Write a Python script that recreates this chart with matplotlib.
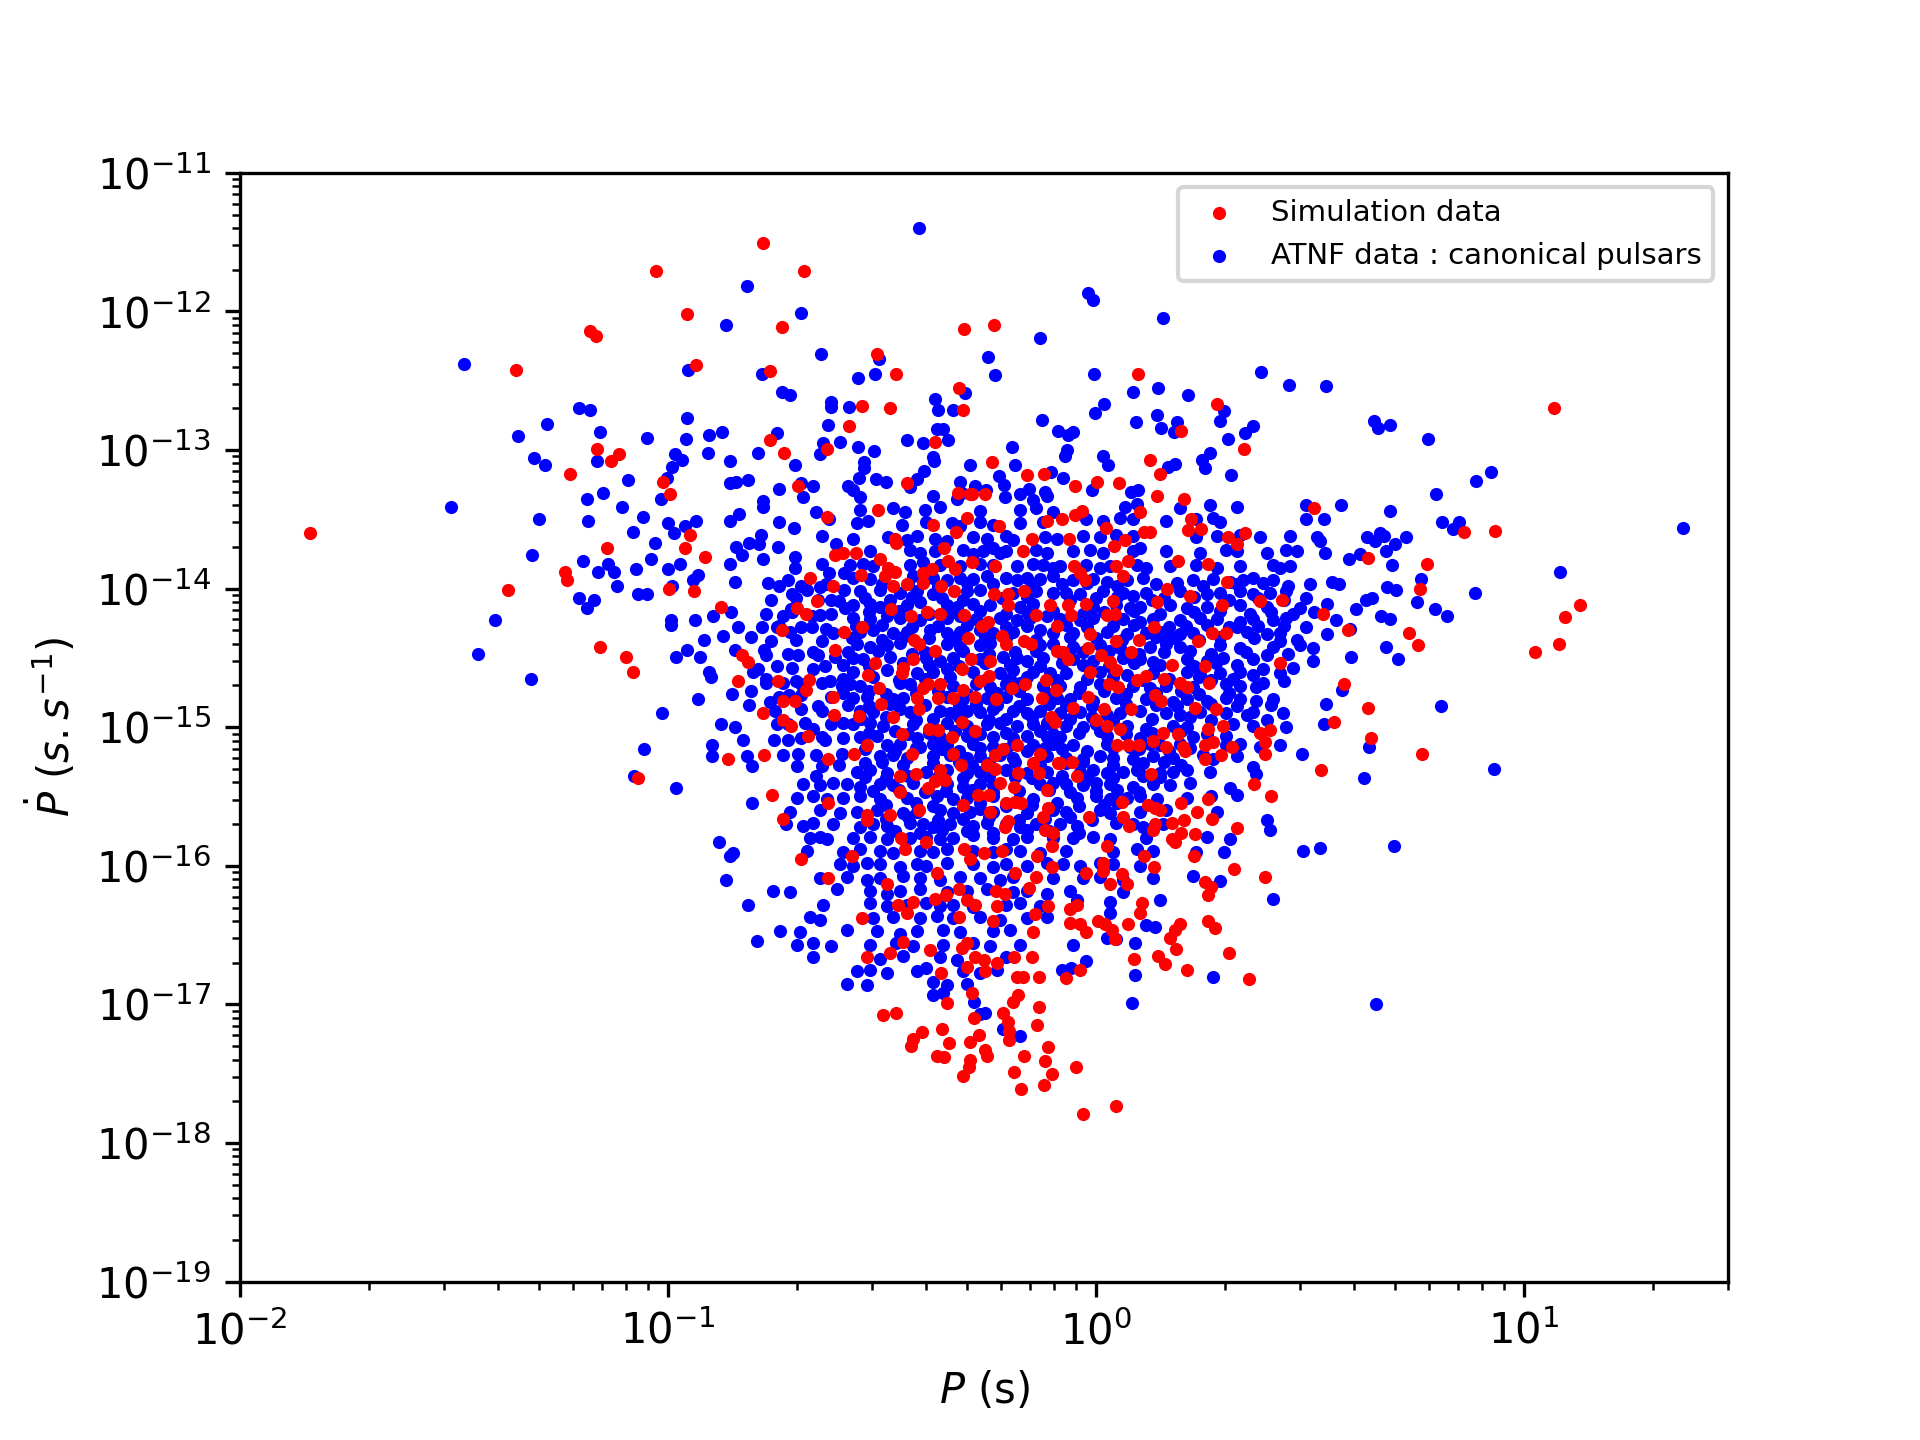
import matplotlib
matplotlib.use('Agg')
import matplotlib.pyplot as plt
import numpy

# (log10 P [s], log10 Pdot [s/s])

# ATNF canonical pulsars
atnf_points = [
    # outer points
    (-0.815,-11.82),(-0.864,-12.10),(0.697,-15.855),(0.655,-17.00),
    (-0.284,-16.98),(-0.259,-17.06),(-0.271,-17.07),(-0.218,-17.18),(-0.178,-17.23),(0.085,-16.99),
    # right side
    (0.537,-12.537),(0.650,-12.79),(0.660,-12.84),(0.688,-12.82),(0.777,-12.92),(0.889,-13.225),(0.924,-13.16),
    (0.795,-13.32),(0.573,-13.40),(0.534,-13.50),(0.687,-13.44),(0.809,-13.52),(0.835,-13.57),(0.849,-13.52),
    (1.372,-13.56),(0.523,-13.66),(0.536,-13.74),(0.634,-13.63),(0.653,-13.66),(0.665,-13.60),(0.674,-13.62),
    (0.724,-13.63),(0.698,-13.68),(0.679,-13.73),(0.592,-13.79),(0.618,-13.75),(0.692,-13.83),(0.551,-13.95),
    (0.567,-13.97),(1.084,-13.88),(0.760,-13.93),(0.681,-13.99),(0.701,-14.01),(0.632,-14.08),(0.646,-14.07),
    (0.751,-14.10),(0.886,-14.03),(0.792,-14.15),(0.821,-14.20),(0.609,-14.15),(0.666,-14.20),(0.688,-14.22),
    (0.541,-14.11),(0.561,-14.23),(0.539,-14.33),(0.594,-14.29),(0.678,-14.42),(0.706,-14.51),(0.597,-14.49),
    (0.575,-14.73),(0.537,-14.83),(0.534,-14.98),(0.639,-15.14),(0.807,-14.85),(0.931,-15.30),(0.627,-15.37),
    # top
    (-0.413,-11.40),(-0.688,-12.01),(-0.642,-12.31),(-0.507,-12.345),(-0.515,-12.45),(-0.557,-12.48),
    (-0.555,-12.98),(-0.518,-13.01),(-0.541,-13.09),(-0.541,-13.13),(-0.553,-13.20),(-0.567,-13.29),
    (-0.514,-13.21),(-0.491,-13.23),(-0.442,-12.93),(-0.405,-12.95),(-0.376,-12.63),(-0.368,-12.71),
    (-0.335,-12.71),(-0.306,-12.59),(-0.372,-12.85),(-0.357,-12.85),(-0.345,-12.93),(-0.380,-13.05),
    (-0.378,-13.08),(-0.402,-13.15),(-0.419,-13.21),(-0.435,-13.27),(-0.293,-13.11),(-0.252,-12.33),
    (-0.236,-12.46),(-0.318,-13.23),(-0.283,-13.26),(-0.257,-13.29),(-0.226,-13.19),(-0.214,-13.25),
    (-0.195,-12.98),(-0.188,-13.11),(-0.156,-13.28),(-0.131,-12.19),(-0.125,-12.78),(-0.088,-12.86),
    (-0.066,-12.895),(-0.053,-12.87),(-0.068,-13.00),(-0.071,-13.04),(-0.076,-13.205),(-0.106,-13.16),
    (-0.119,-13.30),(-0.018,-11.87),(-0.006,-11.92),(-0.005,-12.45),(0.019,-12.67),(-0.002,-12.73),
    (0.016,-13.04),(0.029,-13.11),(-0.010,-13.29),(0.086,-12.58),(0.093,-12.80),(0.146,-12.55),
    (0.157,-12.05),(0.142,-12.75),(0.152,-12.84),(0.189,-12.80),(0.182,-12.87),(0.215,-12.60),
    (0.169,-13.12),(0.185,-13.10),(0.083,-13.30),(0.099,-13.29),(0.247,-13.07),(0.266,-13.02),
    (0.255,-13.13),(0.290,-12.79),(0.299,-12.72),(0.309,-12.92),(0.315,-13.18),(0.348,-12.88),
    (0.368,-12.83),(0.387,-12.44),(0.452,-12.53),
    # left side
    (-1.476,-12.38),(-0.954,-12.42),(-0.780,-12.45),(-0.733,-12.58),(-0.715,-12.60),(-1.207,-12.70),
    (-1.182,-12.715),(-1.282,-12.81),(-1.350,-12.90),(-1.158,-12.87),(-1.048,-12.91),(-0.956,-12.77),
    (-0.957,-12.92),(-0.903,-12.89),(-0.873,-12.87),(-0.906,-13.02),(-0.618,-12.655),(-0.618,-12.69),
    (-0.576,-12.69),(-0.625,-12.82),(-0.597,-12.94),(-0.637,-12.95),(-0.645,-13.03),(-0.746,-12.88),
    (-0.789,-13.02),(-0.855,-13.08),(-0.702,-13.11),(-1.312,-13.06),(-1.287,-13.11),(-1.165,-13.08),
    (-0.984,-13.03),(-0.968,-13.07),(-0.991,-13.12),(-1.094,-13.22),(-1.003,-13.20),(-1.017,-13.35),
    (-1.189,-13.35),(-1.151,-13.31),(-1.108,-13.41),(-1.506,-13.41),(-1.301,-13.50),(-1.186,-13.51),
    (-1.058,-13.48),(-1.081,-13.59),(-1.031,-13.67),(-1.001,-13.53),(-0.985,-13.60),(-0.960,-13.55),
    (-0.935,-13.51),(-0.854,-13.24),(-0.840,-13.23),(-0.812,-13.22),(-0.740,-13.28),(-0.688,-13.24),
    (-0.662,-13.26),(-0.684,-13.34),(-0.779,-13.37),(-0.777,-13.41),(-0.579,-13.26),(-0.854,-13.51),
    (-0.833,-13.46),(-0.740,-13.52),(-0.705,-13.56),(-0.653,-13.45),(-0.624,-13.50),(-0.641,-13.62),
    (-0.783,-13.61),(-0.810,-13.67),(-0.841,-13.70),(-0.826,-13.76),(-0.787,-13.68),(-0.779,-13.79),
    (-0.742,-13.70),(-0.702,-13.77),(-0.703,-13.85),(-0.608,-13.68),(-0.641,-13.82),(-0.624,-13.89),
    (-0.588,-13.89),(-1.317,-13.76),(-1.198,-13.80),(-1.163,-13.88),(-1.141,-13.82),(-1.125,-13.88),
    (-1.120,-13.98),(-1.074,-13.86),(-1.039,-13.79),(-0.999,-13.86),(-0.972,-13.82),(-0.929,-13.90),
    (-0.941,-13.94),(-0.991,-13.98),(-0.855,-13.82),(-0.843,-13.95),(-0.766,-13.96),(-1.069,-14.04),
    (-1.050,-14.04),(-1.207,-14.07),(-1.172,-14.08),(-1.188,-14.14),(-0.719,-13.94),(-0.711,-14.04),
    (-0.676,-14.01),(-0.645,-13.99),(-0.618,-14.08),(-0.588,-14.01),(-0.712,-14.15),(-0.731,-14.20),
    (-0.664,-14.20),(-0.645,-14.19),(-0.586,-14.14),(-1.403,-14.23),(-1.443,-14.47),(-1.319,-14.65),
    (-0.992,-14.23),(-0.992,-14.26),(-0.936,-14.23),(-0.894,-14.20),(-0.853,-14.17),(-0.836,-14.28),
    (-0.871,-14.34),(-0.806,-14.35),(-0.915,-14.37),(-0.955,-14.44),(-0.981,-14.49),(-0.925,-14.49),
    (-0.843,-14.44),(-0.775,-14.44),(-0.746,-14.28),(-0.715,-14.31),(-0.664,-14.28),(-0.695,-14.48),
    (-0.660,-14.46),(-0.633,-14.56),(-0.614,-14.32),(-0.903,-14.60),(-0.900,-14.64),(-0.801,-14.60),
    (-0.771,-14.65),(-0.744,-14.56),(-0.731,-14.68),(-0.688,-14.69),(-0.622,-14.67),(-0.594,-14.70),
    (-0.851,-14.76),(-0.806,-14.74),(-0.810,-14.84),(-0.929,-14.80),(-1.015,-14.90),(-0.762,-14.82),
    (-0.717,-14.77),(-0.649,-14.85),(-0.746,-14.98),(-0.752,-15.09),(-0.719,-15.09),(-0.660,-15.01),
    (-0.633,-15.09),(-0.591,-14.97),(-0.877,-14.98),(-0.843,-15.00),(-0.824,-15.09),(-0.898,-15.13),
    (-0.898,-15.21),(-0.815,-15.21),(-0.803,-15.28),(-0.732,-15.20),(-0.695,-15.19),(-0.699,-15.28),
    (-0.653,-15.20),(-0.594,-15.19),(-1.055,-15.16),(-1.079,-15.35),(-0.653,-15.35),
    (-0.981,-15.44),(-0.803,-15.55),(-0.880,-15.83),(-0.855,-15.93),(-0.847,-15.91),(-0.865,-16.10),
    (-0.812,-16.28),(-0.791,-16.54),
    # core, upper left
    (-0.551,-13.34),(-0.380,-13.33),(-0.325,-13.35),(-0.314,-13.31),(-0.213,-13.34),(-0.178,-13.32),(-0.146,-13.36),(-0.115,-13.33),
    (-0.551,-13.43),(-0.473,-13.42),(-0.446,-13.45),(-0.400,-13.43),(-0.364,-13.41),(-0.271,-13.44),(-0.178,-13.43),(-0.139,-13.42),(-0.100,-13.45),
    (-0.559,-13.53),(-0.532,-13.51),(-0.454,-13.54),(-0.396,-13.52),(-0.337,-13.53),(-0.318,-13.55),(-0.271,-13.52),(-0.240,-13.54),(-0.178,-13.53),(-0.123,-13.52),
    (-0.567,-13.64),(-0.485,-13.63),(-0.442,-13.65),(-0.419,-13.62),(-0.376,-13.64),(-0.349,-13.66),(-0.287,-13.63),(-0.255,-13.64),(-0.209,-13.62),(-0.193,-13.65),(-0.119,-13.63),(-0.092,-13.64),
    (-0.528,-13.73),(-0.435,-13.72),(-0.411,-13.74),(-0.376,-13.73),(-0.310,-13.72),(-0.287,-13.75),(-0.263,-13.73),(-0.240,-13.71),(-0.224,-13.74),(-0.209,-13.73),(-0.139,-13.72),(-0.115,-13.74),
    (-0.575,-13.83),(-0.544,-13.82),(-0.520,-13.84),(-0.435,-13.83),(-0.403,-13.81),(-0.364,-13.83),(-0.318,-13.84),(-0.271,-13.82),(-0.240,-13.83),(-0.185,-13.84),(-0.146,-13.82),(-0.123,-13.83),(-0.100,-13.85),
    (-0.567,-13.92),(-0.528,-13.93),(-0.427,-13.91),(-0.380,-13.92),(-0.349,-13.94),(-0.318,-13.92),(-0.287,-13.93),(-0.255,-13.91),(-0.209,-13.92),(-0.185,-13.94),(-0.162,-13.92),(-0.131,-13.93),(-0.100,-13.91),
    (-0.551,-14.02),(-0.505,-14.01),(-0.458,-14.03),(-0.419,-14.02),(-0.380,-14.04),(-0.302,-14.02),(-0.271,-14.01),(-0.193,-14.03),(-0.139,-14.02),(-0.100,-14.03),
    (-0.567,-14.12),(-0.528,-14.11),(-0.505,-14.13),(-0.442,-14.12),(-0.411,-14.10),(-0.349,-14.12),(-0.325,-14.13),(-0.287,-14.11),(-0.248,-14.12),(-0.178,-14.13),(-0.146,-14.11),
    (-0.567,-14.21),(-0.528,-14.22),(-0.489,-14.20),(-0.458,-14.21),(-0.411,-14.23),(-0.349,-14.21),(-0.318,-14.20),(-0.279,-14.22),(-0.224,-14.21),(-0.185,-14.23),(-0.154,-14.21),(-0.115,-14.20),
    (-0.551,-14.31),(-0.520,-14.30),(-0.473,-14.32),(-0.442,-14.31),(-0.388,-14.30),(-0.349,-14.32),(-0.318,-14.31),(-0.271,-14.30),(-0.240,-14.32),(-0.193,-14.31),(-0.131,-14.30),(-0.100,-14.32),
    (-0.559,-14.40),(-0.528,-14.42),(-0.489,-14.41),(-0.458,-14.39),(-0.349,-14.40),(-0.318,-14.42),(-0.271,-14.41),(-0.248,-14.39),(-0.131,-14.41),(-0.100,-14.40),
    (-0.567,-14.50),(-0.544,-14.51),(-0.481,-14.49),(-0.396,-14.50),(-0.364,-14.52),(-0.333,-14.50),(-0.271,-14.51),(-0.216,-14.49),(-0.185,-14.50),(-0.162,-14.52),(-0.123,-14.50),
    (-0.567,-14.60),(-0.489,-14.59),(-0.419,-14.61),(-0.380,-14.60),(-0.349,-14.58),(-0.287,-14.60),(-0.224,-14.61),(-0.193,-14.59),(-0.146,-14.60),(-0.107,-14.61),
    (-0.575,-14.69),(-0.551,-14.70),(-0.458,-14.68),(-0.435,-14.69),(-0.333,-14.70),(-0.279,-14.69),(-0.248,-14.71),(-0.209,-14.69),(-0.178,-14.68),(-0.123,-14.70),(-0.092,-14.69),
    (-0.567,-14.79),(-0.536,-14.78),(-0.473,-14.80),(-0.450,-14.79),(-0.349,-14.78),(-0.310,-14.80),(-0.255,-14.79),(-0.209,-14.78),(-0.162,-14.80),(-0.092,-14.79),
    (-0.551,-14.88),(-0.520,-14.89),(-0.458,-14.87),(-0.435,-14.89),(-0.364,-14.88),(-0.341,-14.90),(-0.302,-14.88),(-0.271,-14.89),(-0.240,-14.87),(-0.193,-14.88),(-0.162,-14.90),(-0.131,-14.88),
    (-0.567,-14.98),(-0.528,-14.97),(-0.497,-14.99),(-0.427,-14.98),(-0.349,-14.97),(-0.302,-14.99),(-0.255,-14.98),(-0.224,-14.97),(-0.185,-14.99),(-0.146,-14.98),(-0.115,-14.97),
    (-0.551,-15.07),(-0.512,-15.06),(-0.419,-15.08),(-0.364,-15.07),(-0.302,-15.06),(-0.240,-15.07),(-0.193,-15.08),(-0.162,-15.06),(-0.115,-15.07),
    # core, upper right
    (0.068,-13.41),(0.095,-13.39),(0.196,-13.42),(0.266,-13.40),(0.329,-13.41),(0.492,-13.40),
    (-0.022,-13.50),(0.017,-13.51),(0.056,-13.49),(0.087,-13.50),(0.165,-13.51),(0.235,-13.50),(0.274,-13.49),(0.290,-13.52),(0.492,-13.50),
    (-0.030,-13.62),(0.009,-13.63),(0.048,-13.61),(0.087,-13.62),(0.235,-13.63),(0.282,-13.62),(0.336,-13.61),(0.383,-13.63),(0.453,-13.62),(0.516,-13.63),
    (-0.053,-13.73),(-0.014,-13.72),(0.017,-13.74),(0.087,-13.73),(0.103,-13.71),(0.165,-13.73),(0.243,-13.74),(0.305,-13.72),(0.329,-13.73),(0.399,-13.74),(0.445,-13.72),(0.469,-13.73),
    (-0.084,-13.84),(-0.022,-13.83),(0.009,-13.85),(0.032,-13.84),(0.095,-13.83),(0.118,-13.85),(0.173,-13.84),(0.235,-13.83),(0.282,-13.85),(0.336,-13.84),(0.414,-13.83),(0.430,-13.85),(0.453,-13.84),
    (-0.053,-13.94),(-0.006,-13.93),(0.025,-13.95),(0.072,-13.94),(0.111,-13.92),(0.227,-13.94),(0.274,-13.93),(0.313,-13.95),(0.344,-13.94),(0.367,-13.92),(0.414,-13.94),
    (-0.069,-14.03),(-0.037,-14.04),(0.017,-14.02),(0.064,-14.03),(0.087,-14.05),(0.118,-14.03),(0.196,-14.02),(0.259,-14.04),(0.290,-14.03),(0.336,-14.02),(0.367,-14.04),(0.407,-14.03),(0.445,-14.02),
    (-0.006,-14.13),(0.048,-14.12),(0.079,-14.14),(0.103,-14.13),(0.173,-14.12),(0.212,-14.14),(0.259,-14.13),(0.336,-14.12),(0.399,-14.13),(0.477,-14.14),
    (-0.084,-14.22),(-0.037,-14.23),(-0.006,-14.21),(0.064,-14.22),(0.103,-14.24),(0.134,-14.22),(0.196,-14.23),(0.243,-14.21),(0.282,-14.22),(0.336,-14.24),(0.367,-14.22),(0.414,-14.23),(0.445,-14.21),
    (-0.053,-14.32),(0.025,-14.31),(0.072,-14.33),(0.118,-14.32),(0.157,-14.31),(0.196,-14.33),(0.227,-14.32),(0.352,-14.31),(0.399,-14.33),(0.430,-14.32),
    (-0.053,-14.42),(0.009,-14.41),(0.056,-14.43),(0.126,-14.42),(0.165,-14.40),(0.196,-14.42),(0.290,-14.41),(0.336,-14.43),(0.414,-14.42),(0.477,-14.41),(0.508,-14.43),
    (-0.053,-14.51),(-0.006,-14.52),(0.064,-14.50),(0.103,-14.51),(0.134,-14.53),(0.212,-14.51),(0.259,-14.52),(0.298,-14.50),(0.367,-14.51),(0.508,-14.52),
    (-0.069,-14.61),(0.009,-14.60),(0.072,-14.62),(0.134,-14.61),(0.212,-14.60),(0.243,-14.62),(0.290,-14.61),(0.336,-14.60),(0.367,-14.62),(0.430,-14.61),
    (-0.084,-14.70),(-0.037,-14.71),(0.009,-14.69),(0.087,-14.70),(0.126,-14.72),(0.165,-14.70),(0.227,-14.71),(0.305,-14.69),(0.336,-14.70),(0.375,-14.71),
    (-0.061,-14.80),(-0.006,-14.81),(0.048,-14.79),(0.118,-14.80),(0.181,-14.82),(0.212,-14.80),(0.259,-14.81),(0.305,-14.79),(0.336,-14.80),(0.375,-14.81),(0.414,-14.80),
    (-0.084,-14.90),(-0.037,-14.89),(0.025,-14.91),(0.056,-14.90),(0.103,-14.88),(0.165,-14.90),(0.196,-14.91),(0.243,-14.89),(0.305,-14.90),(0.352,-14.91),(0.367,-14.89),(0.438,-14.90),
    (-0.069,-14.99),(-0.030,-15.00),(0.001,-14.98),(0.072,-14.99),(0.118,-15.01),(0.181,-14.99),(0.212,-15.00),(0.321,-14.98),(0.367,-14.99),(0.445,-15.00),
    (-0.084,-15.07),(0.025,-15.06),(0.103,-15.08),(0.227,-15.07),(0.305,-15.06),
    # core, lower left
    (-0.489,-15.13),(-0.458,-15.12),(-0.411,-15.14),(-0.380,-15.12),(-0.349,-15.13),(-0.287,-15.12),(-0.240,-15.14),(-0.193,-15.12),(-0.146,-15.13),(-0.100,-15.12),
    (-0.505,-15.21),(-0.473,-15.20),(-0.442,-15.22),(-0.380,-15.21),(-0.341,-15.20),(-0.302,-15.22),(-0.271,-15.21),(-0.224,-15.20),(-0.193,-15.22),(-0.115,-15.21),
    (-0.559,-15.32),(-0.528,-15.31),(-0.489,-15.33),(-0.396,-15.32),(-0.349,-15.31),(-0.302,-15.33),(-0.271,-15.32),(-0.209,-15.31),(-0.162,-15.33),(-0.115,-15.32),
    (-0.684,-15.41),(-0.645,-15.42),(-0.614,-15.40),(-0.582,-15.41),(-0.551,-15.43),(-0.505,-15.41),(-0.473,-15.42),(-0.427,-15.40),(-0.349,-15.41),(-0.310,-15.43),(-0.271,-15.41),(-0.240,-15.42),(-0.131,-15.41),(-0.100,-15.40),
    (-0.699,-15.51),(-0.660,-15.50),(-0.629,-15.52),(-0.590,-15.51),(-0.551,-15.50),(-0.505,-15.52),(-0.442,-15.51),(-0.372,-15.50),(-0.333,-15.52),(-0.302,-15.51),(-0.240,-15.50),(-0.146,-15.52),
    (-0.715,-15.61),(-0.645,-15.60),(-0.598,-15.62),(-0.559,-15.61),(-0.512,-15.60),(-0.450,-15.62),(-0.419,-15.61),(-0.364,-15.60),(-0.333,-15.62),(-0.294,-15.61),(-0.271,-15.59),(-0.240,-15.61),(-0.162,-15.62),(-0.100,-15.60),
    (-0.723,-15.70),(-0.684,-15.71),(-0.660,-15.69),(-0.614,-15.70),(-0.551,-15.72),(-0.520,-15.70),(-0.489,-15.71),(-0.435,-15.69),(-0.403,-15.70),(-0.380,-15.72),(-0.341,-15.70),(-0.287,-15.71),(-0.255,-15.69),(-0.209,-15.70),(-0.178,-15.72),(-0.139,-15.70),
    (-0.668,-15.80),(-0.645,-15.79),(-0.629,-15.81),(-0.567,-15.80),(-0.528,-15.79),(-0.489,-15.81),(-0.435,-15.80),(-0.396,-15.79),(-0.364,-15.81),(-0.333,-15.80),(-0.287,-15.78),(-0.240,-15.80),(-0.193,-15.81),(-0.162,-15.79),(-0.100,-15.80),
    (-0.676,-15.89),(-0.590,-15.90),(-0.551,-15.88),(-0.505,-15.89),(-0.473,-15.91),(-0.411,-15.89),(-0.380,-15.90),(-0.349,-15.88),(-0.287,-15.89),(-0.240,-15.90),(-0.209,-15.88),(-0.178,-15.89),(-0.131,-15.91),
    (-0.598,-15.99),(-0.567,-16.00),(-0.536,-15.98),(-0.505,-15.99),(-0.458,-16.01),(-0.419,-15.99),(-0.396,-16.00),(-0.349,-15.98),(-0.287,-15.99),(-0.240,-16.01),(-0.209,-15.99),(-0.162,-16.00),(-0.115,-15.98),
    (-0.645,-16.09),(-0.582,-16.08),(-0.536,-16.10),(-0.505,-16.09),(-0.450,-16.07),(-0.411,-16.09),(-0.364,-16.10),(-0.318,-16.08),(-0.271,-16.09),(-0.224,-16.10),(-0.193,-16.08),(-0.100,-16.09),
    (-0.754,-16.18),(-0.715,-16.19),(-0.606,-16.17),(-0.528,-16.18),(-0.489,-16.20),(-0.458,-16.18),(-0.411,-16.17),(-0.349,-16.19),(-0.302,-16.18),(-0.255,-16.17),(-0.193,-16.19),(-0.162,-16.18),(-0.115,-16.20),
    (-0.637,-16.28),(-0.528,-16.27),(-0.489,-16.29),(-0.442,-16.28),(-0.396,-16.27),(-0.364,-16.29),(-0.333,-16.28),(-0.287,-16.30),(-0.209,-16.28),(-0.178,-16.27),(-0.131,-16.29),
    (-0.668,-16.37),(-0.645,-16.39),(-0.520,-16.38),(-0.473,-16.37),(-0.411,-16.38),(-0.372,-16.36),(-0.333,-16.38),(-0.271,-16.37),(-0.224,-16.39),(-0.162,-16.38),(-0.115,-16.37),
    (-0.738,-16.47),(-0.692,-16.48),(-0.582,-16.46),(-0.512,-16.47),(-0.458,-16.49),(-0.419,-16.47),(-0.357,-16.46),(-0.318,-16.48),(-0.240,-16.47),(-0.201,-16.46),
    (-0.699,-16.57),(-0.660,-16.56),(-0.618,-16.58),(-0.528,-16.57),(-0.466,-16.56),(-0.427,-16.58),(-0.357,-16.57),(-0.287,-16.56),(-0.248,-16.58),(-0.178,-16.57),
    (-0.660,-16.66),(-0.505,-16.67),(-0.450,-16.65),(-0.364,-16.66),(-0.325,-16.68),(-0.209,-16.66),
    (-0.559,-16.76),(-0.528,-16.75),(-0.489,-16.77),(-0.419,-16.76),(-0.396,-16.74),(-0.310,-16.76),(-0.271,-16.77),(-0.232,-16.75),
    (-0.582,-16.85),(-0.536,-16.86),(-0.380,-16.84),(-0.349,-16.86),(-0.302,-16.85),
    (-0.380,-16.93),(-0.357,-16.92),
    # core, lower right
    (-0.053,-15.13),(0.025,-15.12),(0.079,-15.14),(0.126,-15.12),(0.150,-15.13),(0.196,-15.12),(0.305,-15.13),(0.336,-15.12),(0.383,-15.14),(0.430,-15.13),(0.481,-15.19),
    (-0.069,-15.22),(-0.030,-15.23),(0.009,-15.21),(0.040,-15.22),(0.087,-15.23),(0.134,-15.21),(0.181,-15.22),(0.274,-15.23),
    (-0.037,-15.32),(-0.006,-15.31),(0.025,-15.33),(0.064,-15.32),(0.095,-15.31),(0.150,-15.33),(0.181,-15.32),(0.212,-15.31),(0.266,-15.32),(0.367,-15.29),(0.375,-15.34),
    (-0.069,-15.41),(-0.030,-15.42),(0.001,-15.40),(0.032,-15.41),(0.087,-15.43),(0.134,-15.41),(0.173,-15.42),(0.220,-15.40),(0.313,-15.44),
    (-0.045,-15.51),(0.001,-15.50),(0.032,-15.52),(0.072,-15.51),(0.103,-15.50),(0.142,-15.52),(0.212,-15.51),
    (-0.069,-15.61),(0.009,-15.60),(0.032,-15.62),(0.103,-15.61),(0.165,-15.60),(0.282,-15.61),
    (-0.084,-15.70),(-0.045,-15.71),(0.048,-15.69),(0.087,-15.70),(0.111,-15.72),(0.157,-15.70),(0.399,-15.67),
    (-0.053,-15.80),(-0.006,-15.79),(0.032,-15.81),(0.118,-15.80),(0.259,-15.79),(0.313,-15.81),(0.407,-15.74),
    (-0.069,-15.89),(0.040,-15.90),(0.095,-15.88),(0.134,-15.89),(0.235,-15.90),(0.484,-15.89),(0.523,-15.87),
    (-0.076,-15.99),(-0.037,-16.00),(0.009,-15.98),(0.040,-15.99),(0.103,-16.00),
    (-0.030,-16.09),(0.009,-16.08),(0.064,-16.10),(0.134,-16.09),(0.227,-16.07),(0.290,-16.11),
    (-0.061,-16.18),(0.064,-16.19),(-0.045,-16.25),(0.032,-16.26),(0.150,-16.25),(0.414,-16.24),
    (0.032,-16.34),(0.118,-16.43),(0.138,-16.44),(0.025,-16.52),(0.048,-16.53),(-0.053,-16.57),(0.091,-16.56),
    (-0.022,-16.69),(-0.080,-16.75),(-0.057,-16.74),(0.091,-16.79),(0.274,-16.80),
    # densest part of the core, between the rows above
    (-0.50,-13.97),(-0.44,-13.97),(-0.37,-13.98),(-0.30,-13.96),(-0.24,-13.97),(-0.15,-13.98),(-0.08,-13.97),(-0.02,-13.96),(0.05,-13.98),(0.14,-13.97),(0.19,-13.96),(0.25,-13.98),(0.33,-13.97),(0.39,-13.96),
    (-0.54,-14.07),(-0.48,-14.08),(-0.43,-14.06),(-0.36,-14.07),(-0.31,-14.08),(-0.22,-14.07),(-0.16,-14.06),(-0.06,-14.08),(0.00,-14.07),(0.05,-14.06),(0.13,-14.08),(0.16,-14.07),(0.23,-14.06),(0.31,-14.08),(0.38,-14.07),
    (-0.53,-14.17),(-0.46,-14.16),(-0.39,-14.18),(-0.33,-14.17),(-0.27,-14.16),(-0.21,-14.18),(-0.16,-14.17),(-0.10,-14.16),(-0.03,-14.18),(0.02,-14.17),(0.09,-14.16),(0.15,-14.18),(0.23,-14.17),(0.29,-14.16),(0.36,-14.18),(0.41,-14.17),
    (-0.56,-14.27),(-0.50,-14.26),(-0.43,-14.28),(-0.37,-14.27),(-0.30,-14.26),(-0.21,-14.28),(-0.16,-14.27),(-0.07,-14.26),(-0.02,-14.28),(0.04,-14.27),(0.09,-14.26),(0.17,-14.28),(0.21,-14.27),(0.26,-14.26),(0.31,-14.28),(0.38,-14.27),
    (-0.57,-14.36),(-0.50,-14.37),(-0.45,-14.35),(-0.39,-14.36),(-0.33,-14.37),(-0.26,-14.35),(-0.21,-14.36),(-0.14,-14.37),(-0.06,-14.35),(0.00,-14.36),(0.06,-14.37),(0.14,-14.35),(0.18,-14.36),(0.24,-14.37),(0.29,-14.35),(0.37,-14.36),
    (-0.58,-14.46),(-0.51,-14.45),(-0.43,-14.47),(-0.40,-14.46),(-0.31,-14.45),(-0.25,-14.47),(-0.19,-14.46),(-0.14,-14.45),(-0.08,-14.47),(-0.03,-14.46),(0.03,-14.45),(0.10,-14.47),(0.16,-14.46),(0.22,-14.45),(0.27,-14.47),(0.35,-14.46),
    (-0.59,-14.55),(-0.53,-14.56),(-0.45,-14.54),(-0.39,-14.55),(-0.32,-14.56),(-0.26,-14.54),(-0.20,-14.55),(-0.13,-14.56),(-0.08,-14.54),(-0.03,-14.55),(0.03,-14.56),(0.09,-14.54),(0.15,-14.55),(0.23,-14.56),(0.28,-14.54),(0.33,-14.55),
    (-0.59,-14.65),(-0.52,-14.64),(-0.46,-14.66),(-0.40,-14.65),(-0.34,-14.64),(-0.26,-14.66),(-0.20,-14.65),(-0.16,-14.64),(-0.09,-14.66),(-0.02,-14.65),(0.04,-14.64),(0.11,-14.66),(0.17,-14.65),(0.24,-14.64),(0.27,-14.66),(0.32,-14.65),
    (-0.59,-14.75),(-0.53,-14.74),(-0.49,-14.76),(-0.42,-14.75),(-0.37,-14.74),(-0.30,-14.76),(-0.23,-14.75),(-0.18,-14.74),(-0.11,-14.76),(-0.04,-14.75),(0.02,-14.74),(0.07,-14.76),(0.14,-14.75),(0.20,-14.74),(0.24,-14.76),(0.31,-14.75),
    (-0.58,-14.84),(-0.53,-14.85),(-0.48,-14.83),(-0.40,-14.84),(-0.32,-14.85),(-0.28,-14.83),(-0.23,-14.84),(-0.18,-14.85),(-0.11,-14.83),(-0.07,-14.84),(-0.01,-14.85),(0.07,-14.83),(0.14,-14.84),(0.19,-14.85),(0.27,-14.83),
    (-0.55,-14.94),(-0.49,-14.93),(-0.42,-14.95),(-0.38,-14.94),(-0.32,-14.93),(-0.25,-14.95),(-0.21,-14.94),(-0.15,-14.93),(-0.11,-14.95),(-0.06,-14.94),(-0.01,-14.93),(0.04,-14.95),(0.13,-14.94),(0.22,-14.93),(0.27,-14.95),
    (-0.53,-15.04),(-0.47,-15.03),(-0.44,-15.05),(-0.39,-15.04),(-0.33,-15.03),(-0.27,-15.05),(-0.21,-15.04),(-0.13,-15.03),(-0.10,-15.05),(-0.04,-15.04),(0.01,-15.03),(0.07,-15.05),(0.13,-15.04),(0.20,-15.03),(0.26,-15.05),
    (-0.54,-15.16),(-0.47,-15.17),(-0.42,-15.15),(-0.36,-15.16),(-0.32,-15.17),(-0.27,-15.15),(-0.21,-15.16),(-0.16,-15.17),(-0.12,-15.15),(-0.08,-15.16),(-0.02,-15.17),(0.04,-15.15),(0.10,-15.16),(0.17,-15.17),(0.22,-15.15),
    (-0.54,-15.26),(-0.50,-15.25),(-0.45,-15.27),(-0.38,-15.26),(-0.32,-15.25),(-0.29,-15.27),(-0.25,-15.26),(-0.19,-15.25),(-0.13,-15.27),(-0.07,-15.26),(-0.03,-15.25),(0.04,-15.27),(0.11,-15.26),(0.16,-15.25),(0.20,-15.27),
    (-0.54,-15.36),(-0.49,-15.37),(-0.44,-15.35),(-0.37,-15.36),(-0.31,-15.37),(-0.25,-15.35),(-0.19,-15.36),(-0.15,-15.37),(-0.08,-15.35),(-0.02,-15.36),(0.04,-15.37),(0.11,-15.35),(0.15,-15.36),
    (-0.52,-15.46),(-0.46,-15.45),(-0.40,-15.47),(-0.35,-15.46),(-0.29,-15.45),(-0.24,-15.47),(-0.18,-15.46),(-0.11,-15.45),(-0.06,-15.47),(0.00,-15.46),(0.05,-15.45),(0.10,-15.47),
    (-0.49,-15.56),(-0.42,-15.55),(-0.38,-15.57),(-0.31,-15.56),(-0.27,-15.55),(-0.21,-15.57),(-0.15,-15.56),(-0.09,-15.55),(-0.04,-15.57),(0.02,-15.56),(0.05,-15.55),
    (-0.49,-15.66),(-0.44,-15.65),(-0.37,-15.67),(-0.31,-15.66),(-0.25,-15.65),(-0.18,-15.67),(-0.12,-15.66),(-0.06,-15.65),(-0.01,-15.67),
    (-0.47,-15.75),(-0.41,-15.76),(-0.36,-15.74),(-0.30,-15.75),(-0.24,-15.76),(-0.16,-15.74),(-0.11,-15.75),(-0.04,-15.76),
    # flanks of the core
    (-0.74,-13.98),(-0.69,-13.98),(-0.63,-13.97),(-0.76,-14.08),(-0.70,-14.07),(-0.65,-14.08),(-0.60,-14.09),
    (-0.77,-14.18),(-0.71,-14.17),(-0.62,-14.18),(-0.78,-14.28),(-0.74,-14.27),(-0.69,-14.28),(-0.63,-14.29),
    (-0.76,-14.38),(-0.70,-14.37),(-0.64,-14.38),(-0.77,-14.48),(-0.72,-14.47),(-0.65,-14.48),(-0.61,-14.49),
    (-0.79,-14.58),(-0.71,-14.57),(-0.66,-14.58),(-0.77,-14.68),(-0.70,-14.67),(-0.64,-14.68),
    (-0.74,-14.78),(-0.69,-14.77),(-0.62,-14.78),(-0.75,-14.88),(-0.69,-14.87),(-0.64,-14.88),
    (-0.72,-14.98),(-0.68,-14.97),(-0.62,-14.98),(-0.69,-15.08),(-0.64,-15.07),(-0.59,-15.08),
    (-0.64,-15.28),(-0.60,-15.27),
    (0.45,-13.98),(0.50,-13.97),(0.44,-14.08),(0.49,-14.07),(0.46,-14.18),(0.51,-14.17),
    (0.33,-14.28),(0.44,-14.27),(0.49,-14.28),(0.43,-14.38),(0.47,-14.37),(0.40,-14.48),(0.45,-14.47),
    (0.39,-14.58),(0.46,-14.57),(0.39,-14.68),(0.44,-14.67),(0.33,-14.85),(0.41,-14.84),(0.40,-14.95),
    (0.25,-15.20),(0.33,-15.21),(0.27,-15.50),(0.33,-15.49),(0.30,-15.90),
]

# simulated population
sim_points = [
    (-1.836,-13.60),(-1.028,-11.71),(-0.956,-12.02),(-0.778,-11.51),(-1.183,-12.14),(-1.168,-12.18),
    # right side
    (1.071,-12.70),(0.860,-13.59),(0.933,-13.585),(0.636,-13.78),(0.774,-13.82),(0.758,-14.00),(0.531,-14.18),
    (0.590,-14.30),(0.732,-14.32),(0.753,-14.41),(1.132,-14.12),(1.097,-14.205),(1.082,-14.40),(1.027,-14.46),
    (0.580,-14.69),(0.636,-14.86),(0.556,-14.96),(0.643,-15.08),(0.762,-15.19),(0.527,-15.31),
    # top
    (-0.681,-11.71),(-0.734,-12.11),(-0.512,-12.31),(-0.467,-12.45),(-0.308,-12.13),(-0.238,-12.10),
    (-0.321,-12.55),(-0.311,-12.71),(-0.546,-12.68),(-0.481,-12.70),(-0.376,-12.94),(-0.442,-13.24),
    (-0.243,-13.09),(-0.162,-13.18),(-0.121,-13.17),(-0.049,-13.26),(0.002,-13.23),(0.098,-12.45),
    (0.126,-13.07),(0.150,-13.17),(0.200,-12.86),(0.283,-12.67),(0.346,-12.99),(-0.323,-13.31),
    (-0.290,-13.32),(0.142,-13.33),
    # left side
    (-1.355,-12.42),(-0.935,-12.39),(-0.762,-12.43),(-1.165,-12.99),(-1.114,-13.03),(-1.133,-13.08),
    (-1.230,-13.17),(-1.011,-13.23),(-0.995,-13.32),(-0.762,-12.93),(-0.729,-13.02),(-0.628,-12.99),
    (-0.695,-13.26),(-0.576,-12.83),(-0.628,-13.48),(-1.142,-13.71),(-0.949,-13.61),(-0.960,-13.71),
    (-0.914,-13.77),(-1.241,-13.88),(-1.235,-13.94),(-1.374,-14.01),(-0.997,-14.00),(-0.938,-14.02),
    (-0.875,-14.13),(-0.668,-13.92),(-0.614,-13.98),(-0.610,-13.76),(-0.590,-13.74),(-0.651,-14.09),
    (-0.699,-14.14),(-0.678,-14.18),(-0.733,-14.30),(-0.588,-14.31),(-0.610,-14.44),(-1.159,-14.42),
    (-1.097,-14.49),(-1.081,-14.60),(-0.826,-14.48),(-0.812,-14.53),(-0.836,-14.67),(-0.742,-14.67),
    (-0.670,-14.66),(-0.678,-14.73),(-0.615,-14.78),(-0.731,-14.81),(-0.702,-14.81),(-0.777,-14.90),
    (-0.731,-14.95),(-0.713,-14.99),(-0.672,-15.06),(-0.611,-14.91),(-0.859,-15.23),(-0.776,-15.20),
    (-0.625,-15.23),(-1.069,-15.37),
    # core, upper left
    (-0.294,-13.32),(-0.258,-13.32),(-0.510,-13.43),(-0.380,-13.54),(-0.302,-13.49),(-0.326,-13.59),
    (-0.226,-13.55),(-0.150,-13.64),(-0.114,-13.51),(-0.170,-13.73),(-0.470,-13.64),(-0.466,-13.67),
    (-0.354,-13.71),(-0.345,-13.80),(-0.329,-13.86),(-0.289,-13.81),(-0.236,-13.84),(-0.561,-13.74),
    (-0.505,-13.79),(-0.485,-13.85),(-0.493,-13.91),(-0.470,-13.88),(-0.548,-13.90),(-0.473,-13.98),
    (-0.442,-13.97),(-0.403,-13.89),(-0.403,-13.96),(-0.382,-13.86),(-0.361,-13.98),(-0.331,-14.02),
    (-0.237,-14.04),(-0.205,-14.04),(-0.168,-14.02),(-0.205,-14.12),(-0.107,-14.12),(-0.479,-14.15),
    (-0.431,-14.20),(-0.394,-14.17),(-0.364,-14.18),(-0.308,-14.19),(-0.267,-14.27),(-0.253,-14.24),
    (-0.139,-14.19),(-0.092,-14.27),(-0.546,-14.28),(-0.425,-14.37),(-0.414,-14.40),(-0.375,-14.45),
    (-0.298,-14.36),(-0.219,-14.34),(-0.209,-14.40),(-0.167,-14.38),(-0.152,-14.40),(-0.090,-14.45),
    (-0.427,-14.51),(-0.516,-14.54),(-0.532,-14.62),(-0.450,-14.57),(-0.454,-14.61),(-0.314,-14.58),
    (-0.292,-14.51),(-0.248,-14.52),(-0.250,-14.63),(-0.271,-14.67),(-0.393,-14.69),(-0.364,-14.69),
    (-0.310,-14.73),(-0.283,-14.78),(-0.333,-14.79),(-0.419,-14.79),(-0.403,-14.72),(-0.370,-14.79),
    (-0.506,-14.72),(-0.501,-14.83),(-0.413,-14.87),(-0.234,-14.80),(-0.195,-14.72),(-0.166,-14.69),
    (-0.117,-14.66),(-0.127,-14.79),(-0.093,-14.73),(-0.105,-14.93),(-0.096,-14.96),(-0.473,-14.93),
    (-0.390,-15.01),(-0.368,-15.02),(-0.314,-14.96),(-0.283,-15.03),(-0.336,-15.07),(-0.454,-15.05),
    (-0.553,-14.92),
    # core, upper right
    (0.054,-13.24),(-0.079,-13.50),(-0.049,-13.47),(-0.033,-13.44),(-0.063,-13.64),(0.023,-13.56),
    (0.068,-13.65),(0.043,-13.69),(0.104,-13.45),(0.113,-13.59),(0.126,-13.59),(0.205,-13.35),
    (0.223,-13.50),(0.216,-13.58),(0.246,-13.57),(0.308,-13.63),(0.329,-13.68),(0.348,-13.60),
    (0.510,-13.42),(0.074,-13.80),(0.048,-13.84),(0.064,-13.91),(-0.051,-13.84),(-0.037,-13.89),
    (-0.026,-13.94),(0.191,-13.80),(0.261,-13.82),(0.307,-13.95),(0.167,-14.00),(0.220,-14.05),
    (0.142,-14.10),(0.295,-14.12),(0.383,-14.09),(0.434,-14.08),(-0.065,-14.12),(-0.024,-14.11),
    (-0.059,-14.19),(0.039,-14.09),(0.025,-14.19),(0.044,-14.18),(-0.014,-14.33),(-0.018,-14.43),
    (0.047,-14.38),(0.101,-14.37),(0.083,-14.46),(0.136,-14.28),(0.239,-14.38),(0.272,-14.32),
    (0.305,-14.32),(0.430,-14.54),(-0.078,-14.46),(-0.066,-14.51),(-0.013,-14.60),(0.012,-14.48),
    (0.034,-14.53),(0.047,-14.59),(0.031,-14.69),(0.052,-14.71),(0.097,-14.66),(0.117,-14.63),
    (0.159,-14.65),(0.179,-14.55),(0.196,-14.68),(0.212,-14.71),(0.255,-14.56),(0.265,-14.68),
    (-0.053,-14.86),(-0.018,-14.78),(0.018,-14.87),(0.083,-14.87),(0.138,-14.77),(0.153,-14.81),
    (0.231,-14.86),(0.280,-14.87),(0.296,-14.99),(0.262,-15.01),(0.000,-14.95),(0.025,-14.99),
    (0.056,-15.01),(0.157,-15.04),(0.191,-15.05),(0.383,-15.04),(0.406,-15.02),
    # core, lower left
    (-0.756,-15.49),(-0.730,-15.66),(-0.689,-15.95),(-0.625,-15.55),(-0.625,-16.09),(-0.565,-15.19),
    (-0.534,-15.13),(-0.536,-15.63),(-0.536,-15.67),(-0.481,-15.63),(-0.569,-15.93),(-0.547,-16.38),
    (-0.534,-16.66),(-0.487,-16.13),(-0.481,-16.63),(-0.462,-16.28),(-0.442,-16.34),(-0.450,-16.55),
    (-0.427,-16.26),(-0.458,-15.35),(-0.458,-15.47),(-0.429,-15.19),(-0.421,-15.34),(-0.456,-15.80),
    (-0.446,-15.88),(-0.413,-15.60),(-0.398,-15.83),(-0.392,-15.44),(-0.375,-15.39),(-0.364,-15.31),
    (-0.353,-15.38),(-0.371,-16.05),(-0.376,-16.24),(-0.351,-16.21),(-0.388,-16.61),(-0.361,-16.77),
    (-0.333,-15.19),(-0.315,-15.27),(-0.310,-15.56),(-0.319,-16.17),(-0.319,-16.37),(-0.302,-16.25),
    (-0.283,-16.28),(-0.302,-16.56),(-0.314,-16.59),(-0.302,-16.73),(-0.289,-16.92),(-0.308,-15.88),
    (-0.293,-15.95),(-0.275,-15.49),(-0.249,-15.49),(-0.248,-15.61),(-0.262,-15.91),(-0.255,-15.27),
    (-0.236,-15.30),(-0.236,-15.20),(-0.216,-15.16),(-0.224,-15.40),(-0.209,-15.55),(-0.189,-15.54),
    (-0.174,-15.55),(-0.191,-15.43),(-0.181,-15.33),(-0.205,-15.68),(-0.213,-15.72),(-0.220,-15.89),
    (-0.189,-16.05),(-0.234,-16.18),(-0.213,-16.20),(-0.230,-16.29),(-0.240,-16.40),(-0.283,-16.66),
    (-0.261,-16.68),(-0.232,-16.70),(-0.258,-16.76),(-0.192,-16.66),(-0.185,-16.80),(-0.171,-16.80),
    (-0.181,-16.93),(-0.150,-16.66),(-0.148,-16.48),(-0.133,-16.80),(-0.156,-16.16),(-0.142,-16.35),
    (-0.139,-16.08),(-0.137,-15.93),(-0.115,-15.45),(-0.111,-15.58),(-0.123,-15.65),(-0.119,-15.74),
    (-0.101,-15.76),(-0.103,-15.86),(-0.103,-16.01),(-0.111,-16.29),(-0.146,-15.26),(-0.132,-15.33),
    (-0.131,-15.19),(-0.184,-15.13),(-0.088,-15.26),
    # core, lower right
    (0.050,-15.13),(0.076,-15.13),(0.100,-15.13),(0.134,-15.10),(0.165,-15.14),(0.204,-15.14),
    (0.208,-15.17),(0.255,-15.13),(0.274,-15.11),(0.255,-15.23),(0.293,-15.20),(0.319,-15.14),
    (0.396,-15.11),(0.396,-15.19),(0.370,-15.41),(0.409,-15.50),(-0.084,-15.26),(-0.055,-15.25),
    (-0.044,-15.35),(0.128,-15.34),(-0.016,-15.65),(0.062,-15.54),(0.064,-15.65),(0.078,-15.71),
    (0.122,-15.56),(0.138,-15.58),(0.150,-15.60),(0.139,-15.70),(0.134,-15.74),(0.179,-15.69),
    (0.200,-15.55),(0.206,-15.67),(0.231,-15.77),(0.237,-15.61),(0.261,-15.52),(0.272,-15.66),
    (0.179,-15.81),(0.185,-15.83),(0.200,-15.76),(0.329,-15.73),(0.027,-15.86),(0.113,-15.93),
    (0.136,-16.01),(0.229,-15.93),(0.323,-16.02),(0.395,-16.08),(-0.022,-16.05),(0.017,-15.98),
    (0.017,-16.04),(0.032,-16.13),(0.062,-16.06),(0.072,-16.13),(0.107,-16.27),(0.103,-16.34),
    (0.075,-16.42),(0.005,-16.40),(0.021,-16.42),(0.037,-16.46),(0.044,-16.53),(-0.022,-16.48),
    (-0.061,-16.31),(-0.045,-16.28),(-0.061,-16.41),(-0.037,-16.42),(-0.037,-16.75),(-0.070,-16.81),
    (0.090,-16.67),(0.146,-16.65),(0.161,-16.71),(0.188,-16.60),(0.173,-16.52),(0.185,-16.46),
    (0.196,-16.42),(0.256,-16.12),(0.262,-16.21),(0.268,-16.15),(0.262,-16.40),(0.278,-16.45),
    (0.213,-16.75),(0.311,-16.63),(0.358,-16.82),
    # bottom tail
    (-0.497,-17.08),(-0.468,-17.06),(-0.406,-17.20),(-0.427,-17.25),(-0.431,-17.30),(-0.359,-17.18),
    (-0.343,-17.28),(-0.347,-16.99),(-0.372,-17.37),(-0.355,-17.38),(-0.294,-17.27),(-0.273,-17.22),
    (-0.284,-17.10),(-0.259,-17.33),(-0.255,-17.37),(-0.294,-17.40),(-0.297,-17.45),(-0.310,-17.52),
    (-0.216,-17.06),(-0.205,-17.13),(-0.202,-17.19),(-0.202,-17.26),(-0.193,-16.98),(-0.132,-17.02),
    (-0.137,-17.15),(-0.167,-17.37),(-0.111,-17.31),(-0.119,-17.41),(-0.192,-17.49),(-0.102,-17.50),
    (-0.121,-17.58),(-0.175,-17.61),(-0.047,-17.45),(-0.030,-17.79),(0.047,-17.73),
]

atnf = 10 ** numpy.array(atnf_points)
sim = 10 ** numpy.array(sim_points)

fig, ax = plt.subplots(figsize=(6.4, 4.8))
h_atnf = ax.scatter(atnf[:, 0], atnf[:, 1], s=10, c='blue', linewidths=0,
                    label='ATNF data : canonical pulsars')
h_sim = ax.scatter(sim[:, 0], sim[:, 1], s=10, c='red', linewidths=0,
                   label='Simulation data')
ax.set_xscale('log')
ax.set_yscale('log')
ax.set_xlim(1e-2, 30)
ax.set_ylim(1e-19, 1e-11)
ax.set_xlabel(r'$P$ (s)')
ax.set_ylabel(r'$\dot{P}\ (s.s^{-1})$')
ax.legend(handles=[h_sim, h_atnf], loc='upper right', fontsize=7)
fig.savefig('out.png', dpi=300)
